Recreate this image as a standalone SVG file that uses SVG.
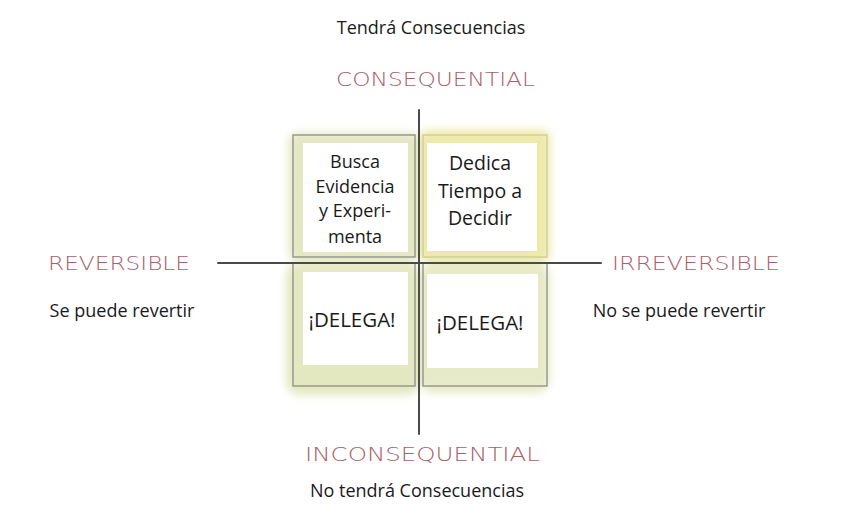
<svg xmlns="http://www.w3.org/2000/svg" width="855" height="532" viewBox="0 0 855 532">
<style>
.t{font-family:"Open Sans","Noto Sans",sans-serif;fill:#1a1a1a;text-anchor:middle}
.h{font-family:"DejaVu Sans","Liberation Sans",sans-serif;fill:#a8606a;font-weight:200;font-size:20px}
.frame{fill:none;stroke:#8f9488;stroke-width:1.4}
.inner{fill:#ffffff}
.ax{stroke:#4a4a4a;stroke-width:2;stroke-linecap:round}
</style>
<defs>
<filter id="blur" x="-20%" y="-20%" width="140%" height="140%"><feGaussianBlur stdDeviation="4"/></filter>
</defs>
<rect width="855" height="532" fill="#ffffff"/>
<g id="wash" filter="url(#blur)">
<rect x="289" y="133" width="130" height="128" rx="8" fill="#e3e7c2"/>
<rect x="420" y="130" width="130" height="132" rx="8" fill="#ece9ab"/>
<rect x="286" y="263" width="134" height="132" rx="14" fill="#e3e8c0"/>
<rect x="420" y="263" width="130" height="130" rx="14" fill="#e7eac8"/>
</g>
<text class="t" x="431" y="34" font-size="18">Tendrá Consecuencias</text>
<text class="t" x="417" y="497" font-size="18">No tendrá Consecuencias</text>
<text class="t" x="122" y="317" font-size="18">Se puede revertir</text>
<text class="t" x="679" y="317" font-size="18">No se puede revertir</text>
<text class="h" x="336" y="86" textLength="199" lengthAdjust="spacingAndGlyphs">CONSEQUENTIAL</text>
<text class="h" x="305" y="461" textLength="235" lengthAdjust="spacingAndGlyphs">INCONSEQUENTIAL</text>
<text class="h" x="48" y="270" textLength="142" lengthAdjust="spacingAndGlyphs">REVERSIBLE</text>
<text class="h" x="612" y="270" textLength="168" lengthAdjust="spacingAndGlyphs">IRREVERSIBLE</text>
<g id="node-tl">
<rect class="inner" x="303" y="143" width="105" height="109"/>
<rect class="frame" x="293" y="135" width="122" height="122"/>
<text class="t" x="355" y="168" font-size="18">Busca</text>
<text class="t" x="355" y="193" font-size="18">Evidencia</text>
<text class="t" x="355" y="217" font-size="18">y Experi-</text>
<text class="t" x="355" y="243" font-size="18">menta</text>
</g>
<g id="node-tr">
<rect class="inner" x="427" y="143" width="110" height="108"/>
<rect x="423" y="135" width="124" height="122" fill="none" stroke="#cfcf90" stroke-width="1.4"/>
<text class="t" x="480" y="170" font-size="19.5">Dedica</text>
<text class="t" x="480" y="198" font-size="19.5">Tiempo a</text>
<text class="t" x="480" y="225" font-size="19.5">Decidir</text>
</g>
<g id="node-bl">
<rect class="inner" x="303" y="272" width="105" height="93"/>
<rect class="frame" x="293" y="263" width="122" height="123"/>
<text class="t" x="352" y="327" font-size="20.5">¡DELEGA!</text>
</g>
<g id="node-br">
<rect class="inner" x="427" y="274" width="111" height="94"/>
<rect class="frame" x="423" y="263" width="124" height="123"/>
<text class="t" x="480" y="330" font-size="20.5">¡DELEGA!</text>
</g>
<g id="connectors">
<line class="ax" x1="419" y1="110" x2="419" y2="434"/>
<line class="ax" x1="218" y1="263" x2="601" y2="263"/>
</g>
</svg>
